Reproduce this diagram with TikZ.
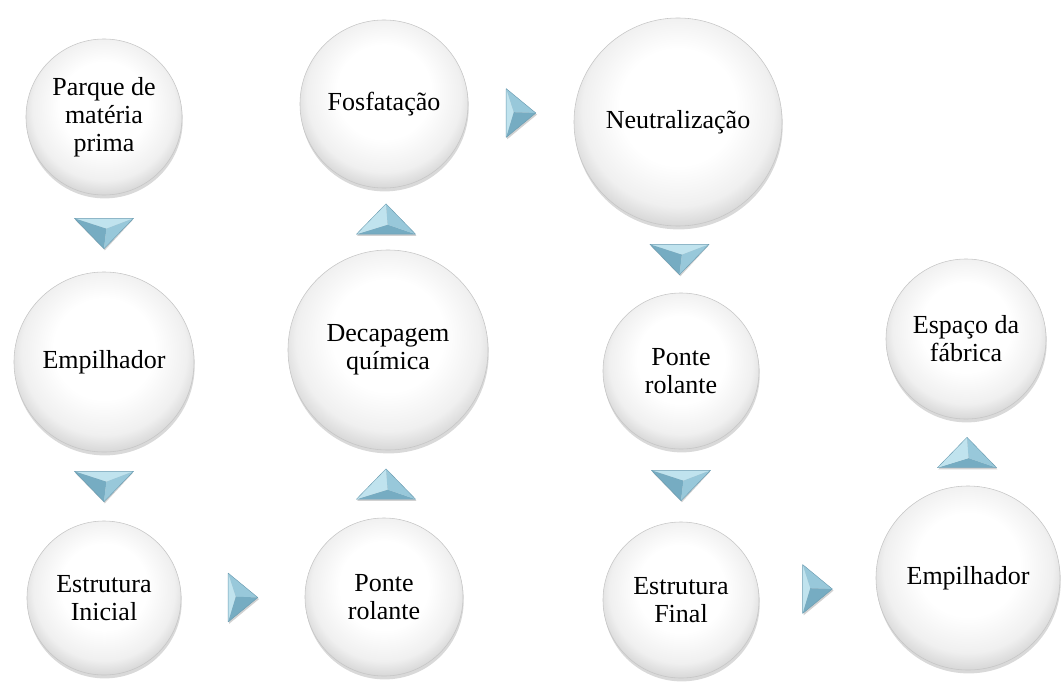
\documentclass[tikz,border=0pt]{standalone}
\usepackage{fontspec}
\setmainfont{Liberation Serif}
\newfontfamily\stagefont{Liberation Serif}
\usepackage{tikz}
\usetikzlibrary{calc}
\usetikzlibrary{shadows}
\usetikzlibrary{positioning}
\definecolor{triBase}{RGB}{152,200,218}
\definecolor{triLight}{RGB}{192,227,238}
\definecolor{triDark}{RGB}{118,172,194}
\definecolor{triEdge}{RGB}{105,155,176}
\pgfdeclareradialshading{pearl}{\pgfpoint{0bp}{5bp}}{%
  color(0bp)=(white); color(14bp)=(white); color(23bp)=(gray!12);
  color(27bp)=(gray!30); color(30bp)=(gray!58); color(50bp)=(gray!58)}
\tikzset{
  stage/.style={circle,shade,shading=pearl,draw=gray!45,line width=0.4pt,inner sep=0pt,
    align=center,font=\stagefont\fontsize{18.5}{20}\selectfont,
    drop shadow={shadow xshift=0.5pt,shadow yshift=-2.4pt,opacity=0.3}},
  tridown/.pic={
    \fill[black,opacity=0.18] (-0.72cm,0.34cm) -- (0.72cm,0.34cm) -- (0.02cm,-0.42cm) -- cycle;
    \fill[triLight] (-0.74cm,0.38cm) -- (0.74cm,0.38cm) -- (0.06cm,0.12cm) -- cycle;
    \fill[triDark] (-0.74cm,0.38cm) -- (0.06cm,0.12cm) -- (0,-0.38cm) -- cycle;
    \fill[triBase] (0.74cm,0.38cm) -- (0.06cm,0.12cm) -- (0,-0.38cm) -- cycle;
    \draw[triEdge,line width=0.3pt,line join=round] (-0.74cm,0.38cm) -- (0.74cm,0.38cm) -- (0,-0.38cm) -- cycle;
  },
  triup/.pic={
    \fill[black,opacity=0.18] (-0.72cm,-0.42cm) -- (0.76cm,-0.42cm) -- (0.02cm,0.34cm) -- cycle;
    \fill[triDark] (-0.74cm,-0.38cm) -- (0.74cm,-0.38cm) -- (0.04cm,-0.14cm) -- cycle;
    \fill[triLight] (-0.74cm,-0.38cm) -- (0.04cm,-0.14cm) -- (0,0.38cm) -- cycle;
    \fill[triBase] (0.74cm,-0.38cm) -- (0.04cm,-0.14cm) -- (0,0.38cm) -- cycle;
    \draw[triEdge,line width=0.3pt,line join=round] (-0.74cm,-0.38cm) -- (0.74cm,-0.38cm) -- (0,0.38cm) -- cycle;
  },
  triright/.pic={
    \fill[black,opacity=0.18] (-0.35cm,0.58cm) -- (-0.35cm,-0.66cm) -- (0.4cm,-0.04cm) -- cycle;
    \fill[triLight] (-0.37cm,0.61cm) -- (-0.37cm,-0.61cm) -- (-0.18cm,0.02cm) -- cycle;
    \fill[triBase] (-0.37cm,0.61cm) -- (-0.18cm,0.02cm) -- (0.37cm,0) -- cycle;
    \fill[triDark] (-0.37cm,-0.61cm) -- (-0.18cm,0.02cm) -- (0.37cm,0) -- cycle;
    \draw[triEdge,line width=0.3pt,line join=round] (-0.37cm,0.61cm) -- (-0.37cm,-0.61cm) -- (0.37cm,0) -- cycle;
  },
}
\begin{document}
\begin{tikzpicture}[x=0.025cm,y=-0.025cm]
  \useasboundingbox (0,0) rectangle (1062,684);

  % --- 1. Stages, column by column ---
  \node[stage,minimum size=3.9cm] (parque) at (104,117) {Parque de\\matéria\\prima};
  \node[stage,minimum size=4.5cm] (emp1) at (104,362) {Empilhador};
  \node[stage,minimum size=3.85cm] (estrI) at (104,598) {Estrutura\\Inicial};

  \node[stage,minimum size=4.2cm] (fosf) at (384,104) {Fosfatação};
  \node[stage,minimum size=5cm] (decap) at (388,350) {Decapagem\\química};
  \node[stage,minimum size=3.95cm] (ponte1) at (384,597) {Ponte\\rolante};

  \node[stage,minimum size=5.2cm] (neut) at (678,122) {Neutralização};
  \node[stage,minimum size=3.9cm] (ponte2) at (681,371) {Ponte\\rolante};
  \node[stage,minimum size=3.9cm] (estrF) at (681,600) {Estrutura\\Final};

  \node[stage,minimum size=4cm] (esp) at (966,339) {Espaço da\\fábrica};
  \node[stage,minimum size=4.6cm] (emp2) at (968,578) {Empilhador};

  % --- 2. Triangles between the stages ---
  % downwards
  \foreach \a/\b in {parque/emp1, emp1/estrI, neut/ponte2, ponte2/estrF}
    \pic at ($(\a.south)!0.5!(\b.north)$) {tridown};
  % upwards
  \foreach \a/\b in {ponte1/decap, decap/fosf, emp2/esp}
    \pic at ($(\a.north)!0.5!(\b.south)$) {triup};
  % to the right
  \foreach \a/\b in {estrI/ponte1, fosf/neut, estrF/emp2}
    \pic at ($(\a.east)!0.5!(\b.west)$) {triright};

\end{tikzpicture}
\end{document}
